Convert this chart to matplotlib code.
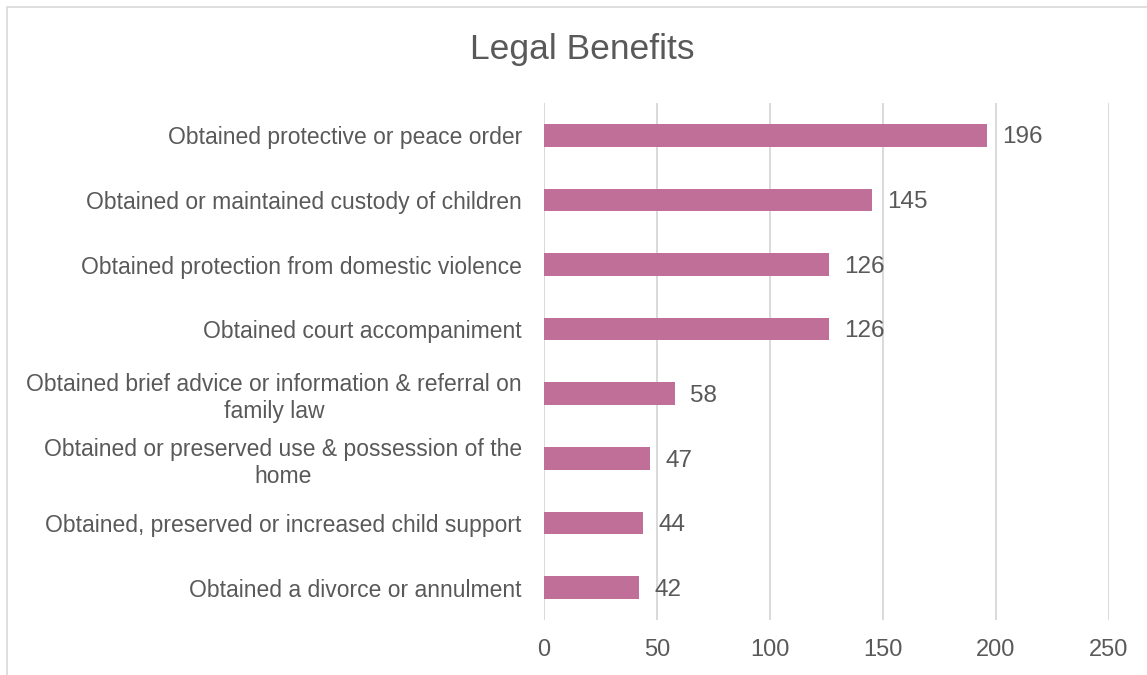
import matplotlib.pyplot as plt
from matplotlib.patches import Rectangle

# benefit categories, top to bottom
categories = [
    "Obtained protective or peace order",
    "Obtained or maintained custody of children",
    "Obtained protection from domestic violence",
    "Obtained court accompaniment",
    "Obtained brief advice or information & referral on\nfamily law",
    "Obtained or preserved use & possession of the\nhome",
    "Obtained, preserved or increased child support",
    "Obtained a divorce or annulment",
]
counts = [196, 145, 126, 126, 58, 47, 44, 42]
xticks = [0, 50, 100, 150, 200, 250]

bar_color = "#C06F98"
text_color = "#595959"
grid_color = "#D9D9D9"

plt.rcParams["font.family"] = ["Liberation Sans", "DejaVu Sans"]

fig = plt.figure(figsize=(11.47, 6.75), dpi=100)
ax = fig.add_axes([0.4743, 0.0815, 0.4923, 0.7659])

ypos = list(range(len(categories)))
bars = ax.barh(ypos, counts, height=0.35, color=bar_color, zorder=3)

for y, v in zip(ypos, counts):
    ax.annotate(str(v), xy=(v, y), xytext=(11, -1.5), textcoords="offset points",
                ha="left", va="center", fontsize=17.5, color=text_color)

ax.set_xlim(0, 250)
ax.set_ylim(len(categories) - 0.5, -0.5)
ax.set_xticks(xticks)
ax.set_xticklabels([str(t) for t in xticks], fontsize=17, color=text_color)
ax.set_yticks(ypos)
ax.set_yticklabels(categories, fontsize=16.5, color=text_color,
                   multialignment="center", linespacing=1.2)
ax.tick_params(axis="x", length=0, pad=14)
ax.tick_params(axis="y", length=0, pad=16)
ax.xaxis.grid(True, color=grid_color, linewidth=1.4, zorder=0)
for s in ax.spines.values():
    s.set_visible(False)

fig.text(0.508, 0.926, "Legal Benefits", ha="center", va="center",
         fontsize=25.5, color=text_color)

# chart frame
fig.patches.append(Rectangle((7 / 1147, -0.1), 1.2, 1 - 7 / 675 + 0.1,
                             transform=fig.transFigure, fill=False,
                             edgecolor="#D9D9D9", linewidth=1.2))

fig.savefig("out.png", dpi=100)
